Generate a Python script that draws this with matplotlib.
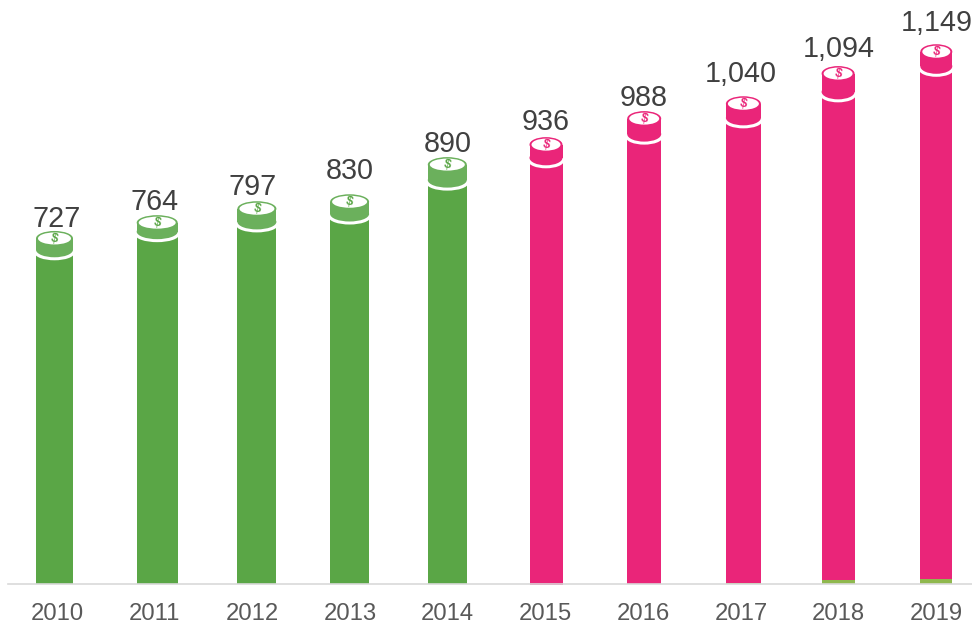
import matplotlib
matplotlib.use("Agg")
import matplotlib.pyplot as plt
from matplotlib.patches import Ellipse, Rectangle

plt.rcParams['font.family'] = ['Liberation Sans', 'DejaVu Sans']

years = ['2010', '2011', '2012', '2013', '2014', '2015', '2016', '2017', '2018', '2019']
values = [727, 764, 797, 830, 890, 936, 988, 1040, 1094, 1149]

# pictogram reads, in the same units as values (the coin sits around the value)
body_tops = [712, 751, 772, 789, 862, 910, 961, 996, 1052, 1107]
coin_tops = [759, 793, 823, 838, 918, 961, 1017, 1049, 1114, 1161]
# small green part showing under the last pink bars
green_base = [0, 0, 0, 0, 0, -3, 0, 2, 7, 10]

GREEN = '#5aa646'
COIN_GREEN = '#6bb05c'
PINK = '#ea2579'
bar_w = [37, 41, 39, 39, 39, 33, 34, 35, 33, 32]
# the pictograms are not quite centred on their ticks (pixels)
bar_shift = [-2.5, 2.5, 4.5, -0.5, -0.5, 0.5, 1, 2.5, -0.5, 0]

W, H = 972, 624
PX_X = 97.7
PX_Y = 0.4645
BASE = 583.5

fig = plt.figure(figsize=(W / 100, H / 100), dpi=100)
ax = fig.add_axes([8 / W, (H - BASE) / H, (W - 8) / W, BASE / H])
ax.set_xlim((8 - 57) / PX_X, (W - 57) / PX_X)
ax.set_ylim(0, BASE / PX_Y)


def coin(ax, x, top, side, w, color, rim):
    # everything here in axis units, sizes given in pixels
    wx = w / PX_X
    eh = 15 / PX_Y
    # white gap between coin and body
    ax.add_patch(Ellipse((x, side), wx + 0.03, eh, fc='white', ec='none', zorder=3))
    coin_low = side + 3 / PX_Y
    mid = top - eh / 2
    if coin_low < mid:
        ax.add_patch(Rectangle((x - wx / 2, coin_low), wx, mid - coin_low, fc=rim, ec='none', zorder=4))
        ax.add_patch(Ellipse((x, coin_low), wx, eh, fc=rim, ec='none', zorder=4))
    ax.add_patch(Ellipse((x, mid), wx, eh, fc=rim, ec='none', zorder=5))
    ax.add_patch(Ellipse((x, mid), wx - 4 / PX_X, eh - 3 / PX_Y, fc='white', ec='none', zorder=6))
    ax.text(x, mid, '$', color=color, fontsize=9, fontweight='bold', ha='center', va='center', rotation=-12, zorder=7)


for i, (v, t, c) in enumerate(zip(values, body_tops, coin_tops)):
    pink = i >= 5
    color = PINK if pink else GREEN
    rim = PINK if pink else COIN_GREEN
    base = green_base[i]
    wx = bar_w[i] / PX_X
    x = i + bar_shift[i] / PX_X
    if base > 0:
        ax.bar(x, base, wx, color='#8fb84e', zorder=1)
    ax.bar(x, t - base, wx, bottom=base, color=color, zorder=2, clip_on=False)
    coin(ax, x, c, t, bar_w[i], color, rim)
    ax.annotate(f'{v:,}', (i, v), xytext=(0, 26.5 * 0.72), textcoords='offset points', ha='center', va='center',
                fontsize=20.7, color='#404040', zorder=8, annotation_clip=False)

for s in ['top', 'left', 'right']:
    ax.spines[s].set_visible(False)
ax.spines['bottom'].set_color('#d9d9d9')
ax.spines['bottom'].set_linewidth(1.2)
ax.set_yticks([])
ax.set_xticks(range(len(years)))
ax.set_xticklabels(years, fontsize=17.2, color='#595959')
ax.tick_params(axis='x', length=0, pad=14)

fig.savefig('out.png', dpi=100)
